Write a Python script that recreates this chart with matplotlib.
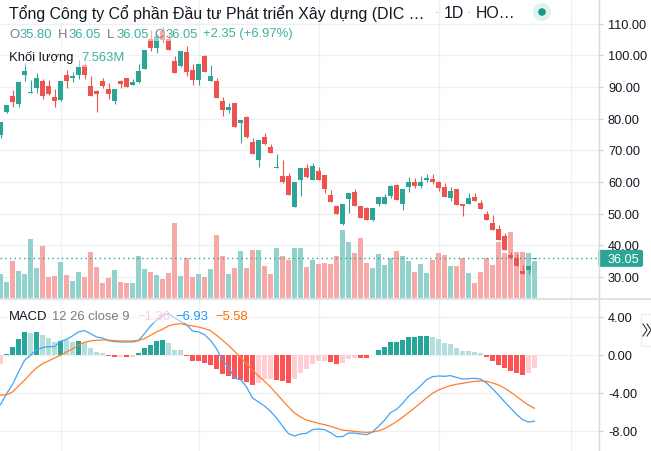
import matplotlib
matplotlib.use("Agg")
import matplotlib.pyplot as plt
from matplotlib.patches import Circle, FancyBboxPatch, Rectangle

plt.rcParams['font.family'] = ['Liberation Sans', 'DejaVu Sans']

W, H = 651, 452

# daily candles
opens = [74.9, 82.1, 87.2, 84.6, 93.8, 88.1, 89.7, 91.9, 90.3, 86.9,
         85.9, 93.8, 92.85, 93.8, 96.96, 90.3, 88.75, 91.9, 89.4, 85.6,
         91.9, 92.85, 90.6, 91.6, 95.7, 105.2, 102.3, 107.7, 105.2, 98.2,
         96.6, 101.05, 95.4, 92.2, 99.8, 91.9, 91.9, 85.6, 82.75, 84.95,
         78.6, 80.5, 72.6, 66.95, 74.2, 71.06, 64.4, 61.9, 61.9, 52.1,
         60.65, 64.4, 60.65, 63.5, 62.2, 55.9, 52.4, 46.75, 54.65, 56.85,
         52.4, 51.8, 48.0, 53.05, 53.05, 55.6, 59.05, 53.05, 58.4, 60.0,
         58.75, 60.65, 60.95, 60.0, 58.4, 54.95, 57.8, 53.05, 53.05, 55.3,
         53.4, 49.9, 47.1, 45.2, 43.0, 36.95, 36.0, 31.9, 32.2, 35.8]
highs = [79.0, 84.3, 89.1, 91.6, 97.6, 92.2, 94.4, 92.5, 92.2, 89.4,
         91.9, 95.4, 94.75, 98.5, 97.6, 93.5, 89.1, 92.85, 91.3, 89.4,
         92.2, 92.85, 92.5, 97.3, 101.7, 108.0, 106.75, 109.0, 106.75, 99.8,
         101.4, 103.0, 97.3, 97.3, 100.1, 97.0, 92.85, 86.85, 84.95, 84.95,
         79.6, 80.85, 73.9, 73.3, 75.5, 72.0, 68.95, 66.95, 62.85, 60.0,
         64.4, 65.7, 66.0, 64.75, 62.2, 57.5, 52.75, 53.05, 56.5, 57.8,
         52.4, 52.1, 51.8, 55.3, 56.2, 59.05, 59.4, 57.8, 61.6, 61.3,
         61.9, 62.5, 62.5, 60.3, 59.7, 58.4, 57.8, 53.05, 56.5, 56.5,
         54.3, 50.85, 49.6, 46.4, 43.9, 37.9, 37.3, 33.8, 33.5, 36.05]
lows = [73.9, 81.8, 83.7, 83.7, 91.9, 88.1, 88.1, 86.2, 87.5, 83.7,
        85.6, 89.7, 91.6, 92.5, 92.5, 87.2, 82.1, 89.7, 86.2, 84.6,
        89.7, 90.0, 90.6, 91.3, 95.7, 101.4, 100.75, 104.2, 101.7, 94.4,
        96.3, 93.5, 90.6, 90.6, 94.75, 91.9, 86.5, 80.85, 81.8, 77.4,
        72.3, 73.9, 68.85, 64.75, 71.7, 69.2, 64.4, 59.7, 55.9, 52.1,
        55.6, 61.3, 60.65, 60.65, 56.5, 53.7, 49.9, 46.4, 50.2, 52.4,
        48.65, 48.0, 47.7, 52.4, 53.05, 54.95, 54.3, 51.2, 56.85, 58.1,
        58.1, 60.0, 59.4, 57.2, 55.3, 54.0, 52.75, 49.25, 53.05, 54.0,
        51.5, 48.0, 44.85, 41.7, 38.5, 36.0, 33.5, 30.95, 30.95, 35.8]
closes = [79.0, 84.3, 85.3, 91.6, 95.06, 88.4, 92.85, 87.2, 87.8, 85.6,
          91.9, 91.9, 93.5, 96.3, 93.8, 87.2, 87.8, 90.3, 87.8, 89.4,
          90.96, 90.0, 91.6, 95.06, 101.7, 102.3, 106.1, 104.85, 101.7, 94.4,
          101.4, 94.75, 92.2, 97.3, 94.75, 93.5, 86.5, 82.75, 83.7, 77.4,
          79.6, 74.2, 68.85, 73.3, 72.0, 69.2, 64.75, 60.0, 55.9, 60.0,
          64.4, 61.6, 65.05, 60.65, 57.8, 53.7, 49.9, 53.05, 56.5, 52.4,
          48.65, 48.0, 51.8, 55.3, 55.3, 58.75, 54.3, 57.8, 60.0, 58.75,
          60.0, 61.3, 60.0, 58.1, 55.3, 57.2, 52.75, 52.4, 54.95, 54.0,
          51.5, 48.0, 44.85, 41.7, 38.5, 36.0, 33.5, 30.95, 33.5, 36.05]

# volume in millions, the last one is the 7.563M of the legend
volumes = [4.9, 3.27, 7.56, 5.52, 4.9, 12.05, 6.13, 10.62, 4.29, 4.49,
           7.35, 4.7, 3.47, 5.31, 4.29, 9.4, 6.33, 3.06, 4.09, 5.72,
           3.27, 3.06, 3.06, 8.58, 5.92, 5.31, 4.7, 3.88, 5.11, 15.32,
           4.49, 8.17, 4.29, 4.9, 4.29, 5.92, 12.87, 8.58, 4.9, 6.13,
           9.6, 6.13, 9.81, 9.81, 6.54, 4.9, 10.22, 8.58, 7.76, 10.22,
           10.22, 6.33, 7.76, 6.95, 7.15, 6.95, 8.58, 13.89, 11.44, 9.19,
           12.26, 7.15, 6.13, 8.99, 6.74, 8.17, 9.6, 8.58, 7.56, 5.31,
           6.95, 5.11, 7.76, 9.19, 8.78, 6.54, 6.54, 8.17, 5.11, 3.06,
           5.31, 8.17, 6.74, 11.44, 9.19, 13.48, 9.4, 9.4, 9.19, 7.563]

hist = [-0.88, 0.18, 0.91, 1.75, 2.49, 2.39, 2.49, 2.18, 1.86, 1.44,
        1.54, 1.6, 1.44, 1.54, 1.33, 0.81, 0.39, 0.28, -0.1, -0.18,
        -0.18, -0.18, -0.15, 0.28, 0.81, 1.12, 1.54, 1.65, 1.33, 0.6,
        0.6, -0.06, -0.6, -0.6, -0.8, -1.0, -1.4, -1.93, -2.14, -2.46,
        -2.56, -2.77, -3.09, -2.88, -2.46, -2.46, -2.56, -2.67, -2.88, -2.46,
        -1.82, -1.4, -0.88, -0.56, -0.56, -0.67, -0.88, -0.77, -0.35, -0.25,
        -0.25, -0.25, 0.07, 0.6, 0.91, 1.44, 1.44, 1.65, 1.96, 1.96,
        2.07, 2.07, 1.96, 1.75, 1.33, 1.23, 0.81, 0.49, 0.49, 0.39,
        0.28, -0.14, -0.56, -0.98, -1.3, -1.61, -1.82, -2.03, -1.82, -1.36]
# g/r = strong green/red, l/p = pale green/pale red
hist_kind = ("p" "gggg" "l" "g" "lll" "g" "ll" "g" "llll" "rrprp" "ggggg" "lll"
             "rrrrrrrrrrrr" "ppp" "rrr" "pppppp" "rr" "ppp" "rr"
             "gggggggggg" "lllllllll" "rrrrrrr" "pp")

macd_line = [-5.19, -4.04, -3.09, -1.75, -0.53, 0.0, 0.6, 0.81, 0.91, 0.91,
             1.47, 1.68, 2.04, 2.46, 2.6, 2.28, 1.93, 1.82, 1.54, 1.44,
             1.4, 1.4, 1.4, 1.54, 2.28, 3.09, 3.68, 4.21, 4.39, 3.93,
             3.58, 3.23, 2.56, 2.46, 2.18, 1.58, 0.7, -0.53, -1.23, -2.39,
             -2.56, -3.33, -4.49, -4.91, -5.33, -5.89, -6.6, -7.44, -8.25, -8.49,
             -8.28, -8.21, -7.82, -7.75, -7.82, -8.14, -8.56, -8.56, -8.18, -8.18,
             -8.28, -8.35, -8.07, -7.47, -6.84, -6.04, -5.68, -5.09, -4.32, -3.79,
             -3.23, -2.56, -2.25, -2.18, -2.21, -2.14, -2.32, -2.49, -2.46, -2.42,
             -2.49, -2.91, -3.51, -4.18, -4.88, -5.54, -6.21, -6.77, -7.02, -6.93]
signal_line = [-4.18, -4.18, -3.86, -3.23, -2.63, -1.93, -1.33, -0.88, -0.6, -0.28,
               0.0, 0.35, 0.67, 1.05, 1.37, 1.51, 1.58, 1.61, 1.61, 1.54,
               1.51, 1.51, 1.51, 1.58, 1.75, 2.11, 2.46, 2.74, 3.09, 3.26,
               3.33, 3.19, 3.09, 2.98, 2.81, 2.6, 2.11, 1.58, 1.05, 0.42,
               -0.21, -0.88, -1.58, -2.18, -2.74, -3.33, -4.04, -4.74, -5.44, -6.07,
               -6.49, -6.81, -6.98, -7.16, -7.3, -7.47, -7.68, -7.86, -7.93, -8.0,
               -8.07, -8.11, -8.07, -7.96, -7.72, -7.37, -6.98, -6.53, -6.04, -5.54,
               -5.02, -4.49, -4.0, -3.65, -3.4, -3.19, -3.05, -2.95, -2.84, -2.74,
               -2.7, -2.74, -2.91, -3.12, -3.44, -3.86, -4.32, -4.81, -5.23, -5.58]

price_ticks = [110, 100, 90, 80, 70, 60, 50, 40, 30]
macd_ticks = [4, 0, -4, -8]
vgrid_bars = [10, 33, 53, 73, 95]
last_price = 36.05

UP = "#2ba596"
DOWN = "#ef5350"
GRID = "#eff0f3"
hist_colors = {"g": "#26a69a", "l": "#b2dfdb", "r": "#ff5252", "p": "#ffcdd2"}

xs = list(range(len(closes)))
xlim = (-0.5 / 6, (598 - 0.5) / 6)

fig = plt.figure(figsize=(W / 100, H / 100), dpi=100)


def pane(top, bottom):
    return fig.add_axes([0, 1 - bottom / H, 598 / W, (bottom - top) / H])


# volume sits under the candles on its own scale
ax_vol = pane(0, 299)
ax_vol.set_ylim(0, 61.1)
ax_price = pane(0, 299)
ax_price.set_ylim(23.37, 117.8)
ax_macd = pane(299, 452)
ax_macd.set_ylim(-10.07, 6.03)

for a in (ax_vol, ax_price, ax_macd):
    a.set_xlim(*xlim)
    a.set_xticks([])
    a.set_yticks([])
    for s in a.spines.values():
        s.set_visible(False)
ax_price.patch.set_visible(False)

for v in vgrid_bars:
    ax_vol.axvline(v, color=GRID, lw=1, zorder=0)
    ax_macd.axvline(v, color=GRID, lw=1, zorder=0)
for t in price_ticks:
    ax_vol.plot(xlim, [(t - 23.37) / (117.8 - 23.37) * 61.1] * 2, color=GRID, lw=1, zorder=0)
for t in macd_ticks:
    ax_macd.axhline(t, color=GRID, lw=1, zorder=0)
ax_vol.set_xlim(*xlim)

vol_colors = ["#92d2cc" if c >= o else "#f7a9a7" for o, c in zip(opens, closes)]
ax_vol.bar(xs, volumes, width=5 / 6, color=vol_colors, zorder=2)

colors = [UP if c >= o else DOWN for o, c in zip(opens, closes)]
ax_price.vlines(xs, lows, highs, colors=colors, lw=0.8, zorder=3)
ax_price.bar(xs, [abs(c - o) for o, c in zip(opens, closes)],
             bottom=[min(o, c) for o, c in zip(opens, closes)],
             width=5 / 6, color=colors, zorder=4)
ax_price.axhline(last_price, color=UP, lw=1, ls=(0, (1, 2.4)), zorder=5)

ax_macd.bar(xs, hist, width=5 / 6, color=[hist_colors[k] for k in hist_kind], zorder=2)
ax_macd.plot(xs, macd_line, color="#42a5f5", lw=0.9, zorder=3)
ax_macd.plot(xs, signal_line, color="#ff7f2a", lw=0.9, zorder=4)

# overlay in pixel coordinates for legends and the price scale
ov = fig.add_axes([0, 0, 1, 1])
ov.set_xlim(0, W)
ov.set_ylim(H, 0)
ov.axis("off")
ov.patch.set_visible(False)

# legends fade what is drawn under them
ov.add_patch(Rectangle((7, 29), 195, 13, color="white", alpha=0.5, lw=0))
ov.add_patch(Rectangle((7, 49), 120, 19, color="white", alpha=0.5, lw=0))
ov.add_patch(Rectangle((7, 307), 245, 17, color="white", alpha=0.5, lw=0))

ov.plot([598.5, 598.5], [0, H], color="#d6d8dc", lw=1)
ov.plot([0, 651], [299.5, 299.5], color="#dcdde0", lw=1.2)

DARK = "#131722"
GREY = "#787b86"
TEAL = "#3fae9f"


def label(x, y, s, color=DARK, size=9.4, **kw):
    ov.text(x, y + 1, s, color=color, fontsize=size, va="center", ha="left", **kw)


label(9, 13, "Tổng Công ty Cổ phần Đầu tư Phát triển Xây dựng (DIC …", size=11.45)
label(435, 12, "·", GREY, 8)
label(444, 13, "1D", size=11.45)
label(467, 12, "·", GREY, 8)
label(476, 13, "HO…", size=11.45)

for x, s in [(9, "O"), (58, "H"), (107, "L"), (154, "C")]:
    label(x, 33.5, s, GREY)
for x, s in [(19, "35.80"), (68, "36.05"), (116, "36.05"), (165, "36.05"), (203, "+2.35 (+6.97%)")]:
    label(x, 33.5, s, TEAL)
label(9, 57, "Khối lượng")
label(81, 57, "7.563M", TEAL)
label(9, 316.5, "MACD")
label(52, 316.5, "12 26 close 9", GREY)
label(137, 316.5, "−1.36", "#ffcdd2")
label(175, 316.5, "−6.93", "#2196f3")
label(215, 316.5, "−5.58", "#ff6d00")

ov.add_patch(Circle((542, 13), 9, color="#dff2ee", lw=0))
ov.add_patch(Circle((542, 13), 3.8, color="#149a82", lw=0))

# tick labels go through the pane transforms
for t in price_ticks:
    y = ov.transData.inverted().transform(ax_price.transData.transform((0, t)))[1]
    ov.plot([598.5, 602.5], [y, y], color="#d6d8dc", lw=1)
    label(608, y, f"{t:.2f}", size=9.2)
for t in macd_ticks:
    y = ov.transData.inverted().transform(ax_macd.transData.transform((0, t)))[1]
    ov.plot([598.5, 602.5], [y, y], color="#d6d8dc", lw=1)
    label(608, y, f"{t:.2f}", size=9.2)

y = ov.transData.inverted().transform(ax_price.transData.transform((0, last_price)))[1]
ov.add_patch(FancyBboxPatch((598.5, y - 8), 44.5, 17, boxstyle="round,pad=0,rounding_size=2",
                            color="#2ba596", lw=0))
label(608, y, f"{last_price:.2f}", "white", 9.2)

# the collapse button on the right edge
ov.add_patch(Rectangle((641, 315), 12, 32, facecolor="white", edgecolor="#eeeeee", lw=1))
for dx in (643, 647):
    ov.plot([dx, dx + 4, dx], [325, 331, 337], color="#333333", lw=0.8)

fig.savefig("out.png", dpi=100)
